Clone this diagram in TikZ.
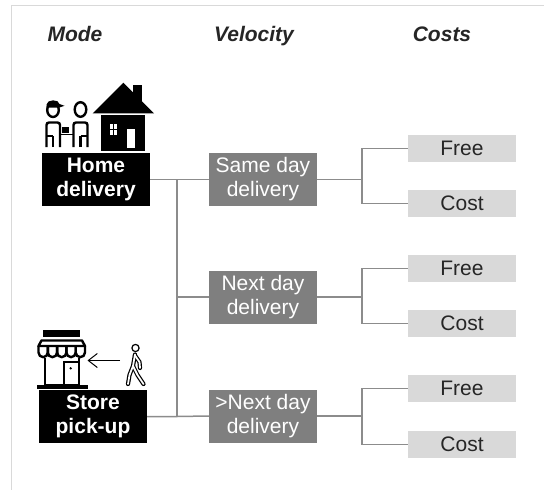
\documentclass[tikz,border=0pt]{standalone}
\usepackage{fontspec}
\setmainfont{Liberation Sans}
\usetikzlibrary{arrows.meta}
\definecolor{velgray}{HTML}{7F7F7F}
\definecolor{costgray}{HTML}{D9D9D9}
\definecolor{linegray}{HTML}{8C8C8C}
\definecolor{txtgray}{HTML}{262626}
\definecolor{framegray}{HTML}{D9D9D9}
\begin{document}
\begin{tikzpicture}[x=1pt,y=-1pt,
  velbox/.style={fill=velgray,text=white,minimum width=108pt,minimum height=53pt,inner sep=0pt,align=center,font=\fontsize{21}{24}\selectfont},
  costbox/.style={fill=costgray,text=txtgray,minimum width=108pt,minimum height=27pt,inner sep=0pt,font=\fontsize{21}{24}\selectfont},
  modebox/.style={fill=black,text=white,minimum width=108pt,minimum height=53pt,inner sep=0pt,align=center,font=\bfseries\fontsize{21}{24}\selectfont},
  header/.style={text=txtgray,anchor=base,font=\bfseries\itshape\fontsize{21}{25}\selectfont},
  conn/.style={draw=linegray,line width=1.5pt},
  icon/.style={line width=2.4pt,black},
  walker/.style={line width=4.2pt,black,line cap=round,line join=round},
  walkerin/.style={line width=1.8pt,white,line cap=round,line join=round}
]
\useasboundingbox (0,0) rectangle (544,490);
\fill[white] (0,0) rectangle (544,490);
% frame
\draw[framegray,line width=1.5pt] (11.5,490) -- (11.5,5.5) -- (544,5.5);

% headers
\node[header] (hmode) at (75,41) {Mode};
\node[header] (hvel) at (254,41) {Velocity};
\node[header] (hcost) at (442,41) {Costs};

% mode boxes
\node[modebox] (hd) at (96,179.5) {Home\\delivery};
\node[modebox] (sp) at (93,416.5) {Store\\pick-up};

% velocity boxes
\node[velbox] (v1) at (263,179.5) {Same day\\delivery};
\node[velbox] (v2) at (263,297) {Next day\\delivery};
\node[velbox] (v3) at (263,416) {>Next day\\delivery};

% cost boxes
\node[costbox] (f1) at (462,148.5) {Free};
\node[costbox] (c1) at (462,203.5) {Cost};
\node[costbox] (f2) at (462,268.5) {Free};
\node[costbox] (c2) at (462,323.5) {Cost};
\node[costbox] (f3) at (462,388.5) {Free};
\node[costbox] (c3) at (462,444.5) {Cost};

% trunk coordinates
\coordinate (t1) at (177,179.5);
\coordinate (t2) at (177,297);
\coordinate (t3) at (177,416.5);
\coordinate (s1) at (362,179.5);
\coordinate (s2) at (362,297);
\coordinate (s3) at (362,416);

% connectors
\draw[conn] (hd.east) -- (v1.west);
\draw[conn] (sp.east) -- (t3) -- (v3.west);
\draw[conn] (t1) -- (t3);
\draw[conn] (t2) -- (v2.west);
\draw[conn] (v1.east) -- (s1);
\draw[conn] (v2.east) -- (s2);
\draw[conn] (v3.east) -- (s3);
\draw[conn] (f1.west) -| (s1) |- (c1.west);
\draw[conn] (f2.west) -| (s2) |- (c2.west);
\draw[conn] (f3.west) -| (s3) |- (c3.west);

% ---- people icon ----
% left figure (with cap)
\draw[icon] (53,110) ellipse [x radius=5.8, y radius=7];
\fill (46.5,107.5) -- (46.5,104.5) .. controls (47,99) and (59,99) .. (59.5,104) -- (64.5,105.8) -- (59.5,107.5) -- cycle;
\draw[icon,rounded corners=2.5pt] (46.5,147) -- (46.5,122.5) -- (60,122.5) -- (60,147);
\draw[icon] (53.2,147) -- (53.2,136);
\draw[icon] (46.5,136) -- (53.2,136);
% right figure
\draw[icon] (80.5,109.5) ellipse [x radius=5.8, y radius=7.3];
\draw[icon,rounded corners=2.5pt] (73.5,147) -- (73.5,122.5) -- (87.5,122.5) -- (87.5,147);
\draw[icon] (80.5,147) -- (80.5,136);
\draw[icon] (80.5,136) -- (87.5,136);
% package and hands
\fill (62,126.5) rectangle (68.5,133);
\draw[line width=1.8pt] (60,134.5) -- (73.5,134.5);

% ---- house icon ----
\fill (92.7,113.3) -- (123.3,82.7) -- (154,113.3) -- cycle;
\fill (133.3,85) rectangle (141.7,102);
\fill (101,115) rectangle (145,150.7);
\fill[white] (110,124.3) rectangle (113.2,128.8);
\fill[white] (114.2,124.3) rectangle (117.4,128.8);
\fill[white] (110,130) rectangle (113.2,134.5);
\fill[white] (114.2,130) rectangle (117.4,134.5);
\fill[white] (126.7,129) rectangle (135,148.3);

% ---- store icon ----
\fill (43.3,330) rectangle (80,336.5);
\draw[icon,line join=round] (41.5,340.5) -- (82,340.5) -- (85,346) -- (38.5,346) -- cycle;
\foreach \i in {0,...,4}{
  \draw[icon] ({38.5+\i*9.3},346) -- ({38.5+\i*9.3},352.5) arc[start angle=180,end angle=0,radius=4.65] -- ({38.5+(\i+1)*9.3},346);
}
\draw[icon] (45,357.5) -- (45,385) -- (79,385) -- (79,357.5);
\draw[line width=2pt] (64,385) -- (64,362) -- (79,362);
\fill (70.7,368.3) circle (1.3);
\fill (36.7,384.5) rectangle (88.3,389);

% arrow
\draw[line width=1pt,-{Straight Barb[length=9pt,width=14pt]}] (120,360.5) -- (87.5,360.5);

% ---- walking person ----
\draw[line width=1.2pt] (135.5,348) circle (3.6);
\foreach \st in {walker,walkerin}{
  \draw[\st] (135,354.5) -- (133,366) -- (129.5,375) -- (128,384);
  \draw[\st] (133,366) -- (137.5,375) -- (143.5,384);
  \draw[\st] (135,355.5) -- (139.5,362) -- (140,368);
}
\end{tikzpicture}
\end{document}
